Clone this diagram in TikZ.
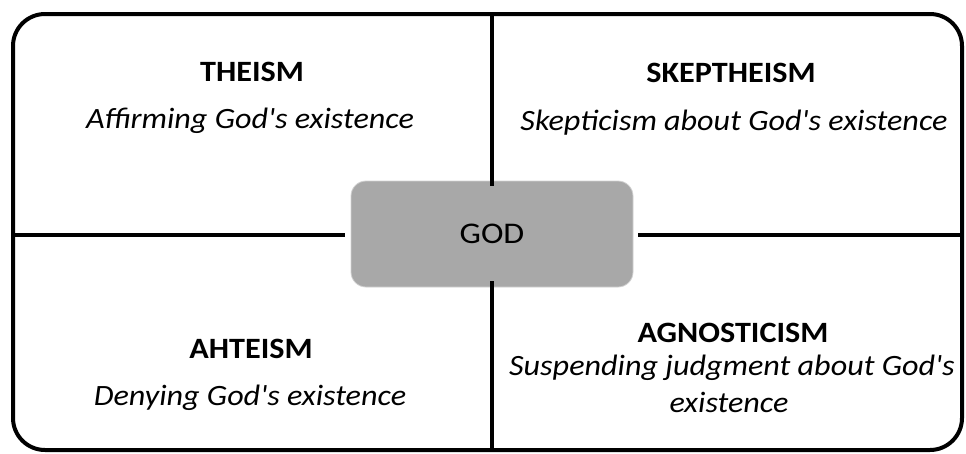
\documentclass[tikz,border=0pt]{standalone}
\usepackage{fontspec}
\newfontfamily\titlefont{Carlito}[FakeStretch=1.09]
\newfontfamily\subfont{Carlito}[FakeStretch=1.09]
\newfontfamily\godfont{Carlito}[FakeStretch=1.13]
\begin{document}
\begin{tikzpicture}[x=1pt,y=-1pt,
  frame/.style={line width=4pt,rounded corners=32pt},
  divider/.style={line width=4pt},
  godbox/.style={draw=black!18,fill=black!34,line width=0.8pt,rounded corners=15pt,minimum width=282pt,minimum height=106pt,inner sep=0pt},
  title/.style={anchor=base,inner sep=0pt,font=\titlefont\fontsize{29.5}{35}\selectfont\bfseries},
  sub/.style={anchor=base,inner sep=0pt,font=\subfont\fontsize{29.5}{35}\selectfont\itshape},
  godtext/.style={font=\godfont\fontsize{30}{35}\selectfont}]
\useasboundingbox (0,0) rectangle (966,453);
\draw[frame] (13,14) rectangle (962,450);
\node[godbox] (god) at (492,234) {};
\node[godtext] at (god.center) {GOD};
\coordinate (top) at (492,14);
\coordinate (bot) at (492,450);
\coordinate (lft) at (13,235);
\coordinate (rgt) at (962,235);
\draw[divider] (top) -- ([yshift=-5pt]god.north);
\draw[divider] ([yshift=6pt]god.south) -- (bot);
\draw[divider] (lft) -- ([xshift=-6pt]god.west |- lft);
\draw[divider] ([xshift=5pt]god.east |- rgt) -- (rgt);
\node[title] (t1) at (252,81) {THEISM};
\node[sub] (s1) at (250,128) {Affirming God's existence};
\node[title] (t2) at (731,82) {SKEPTHEISM};
\node[sub] (s2) at (734,130) {Skepticism about God's existence};
\node[title] (t3) at (251,358) {AHTEISM};
\node[sub] (s3) at (250,405) {Denying God's existence};
\node[title] (t4) at (733,342) {AGNOSTICISM};
\node[sub] (s4a) at (732,375) {Suspending judgment about God's};
\node[sub] (s4b) at (729,412) {existence};
\end{tikzpicture}
\end{document}
